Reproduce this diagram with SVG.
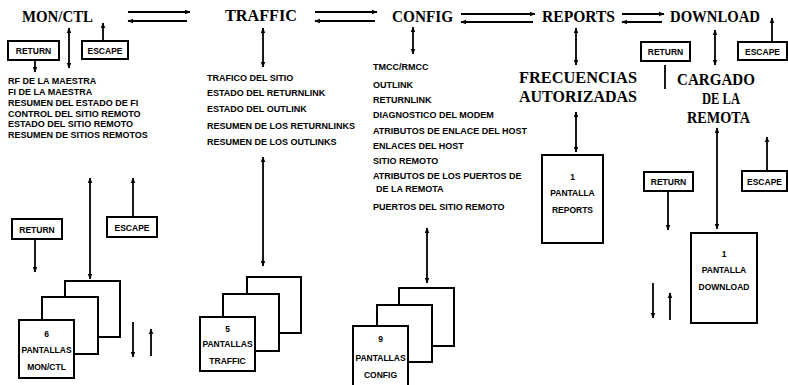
<svg xmlns="http://www.w3.org/2000/svg" width="788" height="385" viewBox="0 0 788 385">
<style>
.t{font-family:"Liberation Serif","DejaVu Serif",serif;font-weight:bold;font-size:17px;fill:#000}
.s{font-family:"Liberation Sans","DejaVu Sans",sans-serif;font-weight:bold;font-size:9px;fill:#000}
.b{font-family:"Liberation Sans","DejaVu Sans",sans-serif;font-weight:bold;font-size:8.5px;fill:#000;text-anchor:middle}
.box{fill:#fff;stroke:#000;stroke-width:2}
.c{fill:none;stroke:#000;stroke-width:1.8}
.e{marker-end:url(#ah)}
.d{marker-start:url(#ah);marker-end:url(#ah)}
</style>
<defs>
<marker id="ah" viewBox="0 0 10 10" refX="9" refY="5" markerWidth="6" markerHeight="6" markerUnits="userSpaceOnUse" orient="auto-start-reverse">
<path d="M0,1 L10,5 L0,9 z" fill="#000"/>
</marker>
</defs>
<rect width="788" height="385" fill="#fff"/>

<g id="connectors">
<!-- title double arrows -->
<line class="c e" x1="128" y1="12" x2="190" y2="12"/>
<line class="c e" x1="187" y1="21" x2="128" y2="21"/>
<line class="c e" x1="315" y1="12" x2="377" y2="12"/>
<line class="c e" x1="375" y1="21" x2="315" y2="21"/>
<line class="c e" x1="461" y1="14" x2="535" y2="14"/>
<line class="c e" x1="533" y1="22" x2="461" y2="22"/>
<line class="c e" x1="622" y1="14" x2="664" y2="14"/>
<line class="c e" x1="662" y1="22" x2="622" y2="22"/>
<!-- MON/CTL -->
<line class="c d" x1="69" y1="28" x2="69" y2="68"/>
<line class="c e" x1="103" y1="41" x2="103" y2="23"/>
<line class="c e" x1="35" y1="60" x2="35" y2="72"/>
<line class="c d" x1="90" y1="178" x2="90" y2="279"/>
<line class="c e" x1="133" y1="217" x2="133" y2="178"/>
<line class="c e" x1="35" y1="239" x2="35" y2="272"/>
<line class="c e" x1="133" y1="322" x2="133" y2="357"/>
<line class="c e" x1="151" y1="356" x2="151" y2="329"/>
<!-- TRAFFIC -->
<line class="c d" x1="263" y1="28" x2="263" y2="67"/>
<line class="c d" x1="263" y1="157" x2="263" y2="266"/>
<!-- CONFIG -->
<line class="c d" x1="413" y1="27" x2="413" y2="54"/>
<line class="c d" x1="427" y1="228" x2="427" y2="283"/>
<!-- REPORTS -->
<line class="c d" x1="576" y1="28" x2="576" y2="65"/>
<line class="c d" x1="576" y1="112" x2="576" y2="152"/>
<!-- DOWNLOAD -->
<line class="c d" x1="715" y1="30" x2="715" y2="65"/>
<line class="c e" x1="772" y1="42" x2="772" y2="18"/>
<line class="c" x1="665" y1="65" x2="665" y2="89"/>
<line class="c d" x1="717" y1="128" x2="717" y2="229"/>
<line class="c e" x1="767" y1="171" x2="767" y2="137"/>
<line class="c e" x1="668" y1="191" x2="668" y2="230"/>
<line class="c e" x1="653" y1="283" x2="653" y2="318"/>
<line class="c e" x1="670" y1="320" x2="670" y2="293"/>
</g>

<g id="mon-ctl">
<text class="t" x="22" y="22" textLength="71" lengthAdjust="spacingAndGlyphs">MON/CTL</text>
</g>
<g id="mon-return-top"><rect class="box" x="8" y="41" width="51" height="19"/><text class="b" x="33.5" y="54">RETURN</text></g>
<g id="mon-escape-top"><rect class="box" x="82" y="41" width="46" height="18"/><text class="b" x="105" y="53.5">ESCAPE</text></g>
<g id="mon-list">
<text class="s" x="8" y="83.5">RF DE LA MAESTRA</text>
<text class="s" x="8" y="94.5">FI DE LA  MAESTRA</text>
<text class="s" x="8" y="105.5">RESUMEN DEL ESTADO DE FI</text>
<text class="s" x="8" y="116.5">CONTROL DEL SITIO REMOTO</text>
<text class="s" x="8" y="126.5">ESTADO DEL SITIO REMOTO</text>
<text class="s" x="8" y="137.5">RESUMEN DE SITIOS REMOTOS</text>
</g>
<g id="mon-return-bottom"><rect class="box" x="12" y="219" width="50" height="20"/><text class="b" x="37" y="232.5">RETURN</text></g>
<g id="mon-escape-bottom"><rect class="box" x="107" y="217" width="50" height="20"/><text class="b" x="132" y="230.5">ESCAPE</text></g>
<g id="mon-screens">
<rect class="box" x="65" y="281" width="55" height="56"/>
<rect class="box" x="42" y="297" width="56" height="57"/>
<rect class="box" x="19" y="320" width="55" height="58"/>
<text class="b" x="46.5" y="337">6</text>
<text class="b" x="46.5" y="353">PANTALLAS</text>
<text class="b" x="46.5" y="370">MON/CTL</text>
</g>

<g id="traffic">
<text class="t" x="225" y="21" textLength="72" lengthAdjust="spacingAndGlyphs">TRAFFIC</text>
</g>
<g id="traffic-list">
<text class="s" x="207" y="80.5">TRAFICO DEL SITIO</text>
<text class="s" x="207" y="95.5">ESTADO DEL RETURNLINK</text>
<text class="s" x="207" y="111.5">ESTADO DEL OUTLINK</text>
<text class="s" x="207" y="128.5">RESUMEN DE LOS RETURNLINKS</text>
<text class="s" x="207" y="144.5">RESUMEN DE LOS OUTLINKS</text>
</g>
<g id="traffic-screens">
<rect class="box" x="247" y="277" width="54" height="56"/>
<rect class="box" x="223" y="294" width="56" height="57"/>
<rect class="box" x="200" y="317" width="55" height="54"/>
<text class="b" x="227.5" y="332">5</text>
<text class="b" x="227.5" y="347">PANTALLAS</text>
<text class="b" x="227.5" y="364">TRAFFIC</text>
</g>

<g id="config">
<text class="t" x="392" y="22" textLength="61" lengthAdjust="spacingAndGlyphs">CONFIG</text>
</g>
<g id="config-list">
<text class="s" x="373" y="69.5">TMCC/RMCC</text>
<text class="s" x="373" y="88">OUTLINK</text>
<text class="s" x="373" y="102.5">RETURNLINK</text>
<text class="s" x="373" y="118">DIAGNOSTICO DEL MODEM</text>
<text class="s" x="373" y="134">ATRIBUTOS DE ENLACE DEL HOST</text>
<text class="s" x="373" y="149">ENLACES DEL HOST</text>
<text class="s" x="373" y="164">SITIO REMOTO</text>
<text class="s" x="373" y="179">ATRIBUTOS DE LOS PUERTOS DE</text>
<text class="s" x="376" y="192">DE LA REMOTA</text>
<text class="s" x="373" y="210">PUERTOS DEL SITIO REMOTO</text>
</g>
<g id="config-screens">
<rect class="box" x="399" y="288" width="55" height="58"/>
<rect class="box" x="377" y="305" width="55" height="57"/>
<rect class="box" x="353" y="326" width="55" height="62"/>
<text class="b" x="380.5" y="342">9</text>
<text class="b" x="380.5" y="361">PANTALLAS</text>
<text class="b" x="380.5" y="378">CONFIG</text>
</g>

<g id="reports">
<text class="t" x="542" y="22" textLength="73" lengthAdjust="spacingAndGlyphs">REPORTS</text>
</g>
<g id="frecuencias">
<text class="t" x="519" y="83" textLength="118" lengthAdjust="spacingAndGlyphs">FRECUENCIAS</text>
<text class="t" x="519" y="102" textLength="118" lengthAdjust="spacingAndGlyphs">AUTORIZADAS</text>
</g>
<g id="reports-screen">
<rect class="box" x="542" y="155" width="61" height="88"/>
<text class="b" x="572.5" y="180">1</text>
<text class="b" x="572.5" y="196">PANTALLA</text>
<text class="b" x="572.5" y="213">REPORTS</text>
</g>

<g id="download">
<text class="t" x="670" y="22" textLength="90" lengthAdjust="spacingAndGlyphs">DOWNLOAD</text>
</g>
<g id="dl-return-top"><rect class="box" x="641" y="42" width="49" height="19"/><text class="b" x="665.5" y="55">RETURN</text></g>
<g id="dl-escape-top"><rect class="box" x="738" y="42" width="49" height="18"/><text class="b" x="762.5" y="54.5">ESCAPE</text></g>
<g id="cargado">
<text class="t" x="677" y="85" textLength="78" lengthAdjust="spacingAndGlyphs">CARGADO</text>
<text class="t" x="702" y="104" textLength="38" lengthAdjust="spacingAndGlyphs">DE LA</text>
<text class="t" x="687" y="123" textLength="63" lengthAdjust="spacingAndGlyphs">REMOTA</text>
</g>
<g id="dl-return-bottom"><rect class="box" x="644" y="172" width="49" height="19"/><text class="b" x="668.5" y="185">RETURN</text></g>
<g id="dl-escape-bottom"><rect class="box" x="742" y="171" width="45" height="20"/><text class="b" x="764.5" y="184.5">ESCAPE</text></g>
<g id="download-screen">
<rect class="box" x="691" y="233" width="66" height="90"/>
<text class="b" x="724" y="257">1</text>
<text class="b" x="724" y="273">PANTALLA</text>
<text class="b" x="724" y="290">DOWNLOAD</text>
</g>
</svg>
